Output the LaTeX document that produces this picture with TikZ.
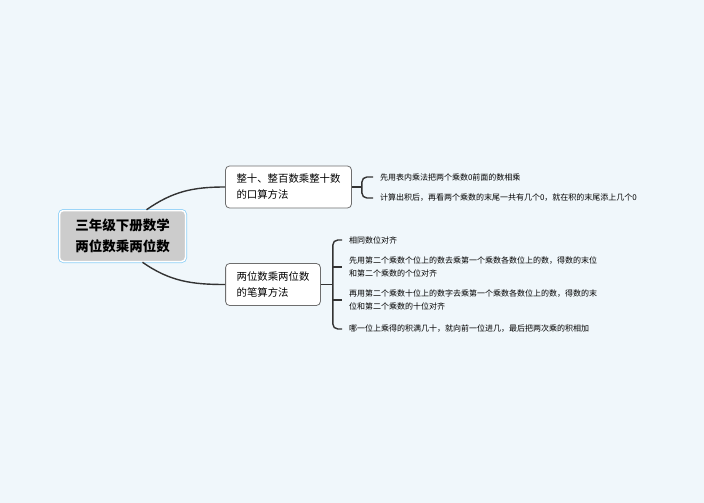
\documentclass[tikz,border=0pt]{standalone}
\usepackage{fontspec}
\setmainfont{Noto Sans CJK SC}
\usepackage{xcolor}
\definecolor{bgblue}   {RGB}{240,247,251}
\definecolor{rootgrey} {RGB}{204,204,204}
\definecolor{rootblue} {RGB}{142,208,247}
\definecolor{boxline}  {RGB}{110,110,110}
\definecolor{linkdark} {RGB}{51,51,51}
\usetikzlibrary{positioning}
\tikzset{ % Setup for the mind map
root/.style={fill=rootgrey, draw=white, line width=1.5pt, rounded corners=4pt, preaction={draw=rootblue, line width=3pt}, minimum width=126pt, minimum height=51pt, align=center, font=\bfseries\fontsize{13.5}{21}\selectfont},
topic/.style={draw=boxline, fill=white, line width=0.8pt, rounded corners=4pt, inner xsep=11pt, minimum height=42pt, align=left, font=\fontsize{10.4}{16}\selectfont},
leaf/.style={anchor=west, align=left, inner sep=0pt, outer xsep=7pt, font=\fontsize{8}{13}\selectfont},
link/.style={draw=linkdark, line width=1.4pt},
}

\begin{document}
\begin{tikzpicture}[x=1pt,y=-1pt]
            \fill[bgblue] (0,0) rectangle (704,503);
            \useasboundingbox (0,0) rectangle (704,503);
            \node [root] (root) at (122.5,236) {三年级下册数学\\两位数乘两位数};
            \node [topic] (wt) at (288.5,187) {整十、整百数乘整十数\\的口算方法};
            \node [topic] (bs) at (273,284.5) {两位数乘两位数\\的笔算方法};
            \node [leaf] (w1) at (373,177) {先用表内乘法把两个乘数0前面的数相乘};
            \node [leaf] (w2) at (373,198) {计算出积后，再看两个乘数的末尾一共有几个0，就在积的末尾添上几个0};
            \node [leaf] (s1) at (342,240) {相同数位对齐};
            \node [leaf] (s2) at (342,267) {先用第二个乘数个位上的数去乘第一个乘数各数位上的数，得数的末位\\和第二个乘数的个位对齐};
            \node [leaf] (s3) at (342,300) {再用第二个乘数十位上的数字去乘第一个乘数各数位上的数，得数的末\\位和第二个乘数的十位对齐};
            \node [leaf] (s4) at (342,329) {哪一位上乘得的积满几十，就向前一位进几，最后把两次乘的积相加};
            % root to topics
            \draw [link] ([xshift=24pt]root.north) to[out=35,in=180] (wt.west);
            \draw [link] ([xshift=20pt]root.south) to[out=-35,in=180] (bs.west);
            % brackets
            \draw [link] (wt.east) -- ++(10,0) coordinate (b1);
            \draw [link, rounded corners=5pt] (w1.west) -| (b1) |- (w2.west);
            \draw [link] (bs.east) -- ++(12,0) coordinate (b2);
            \draw [link, rounded corners=5pt] (s1.west) -| (b2) |- (s4.west);
            \draw [link] (b2 |- s2.west) -- (s2.west);
            \draw [link] (b2 |- s3.west) -- (s3.west);
        \end{tikzpicture}
\end{document}
